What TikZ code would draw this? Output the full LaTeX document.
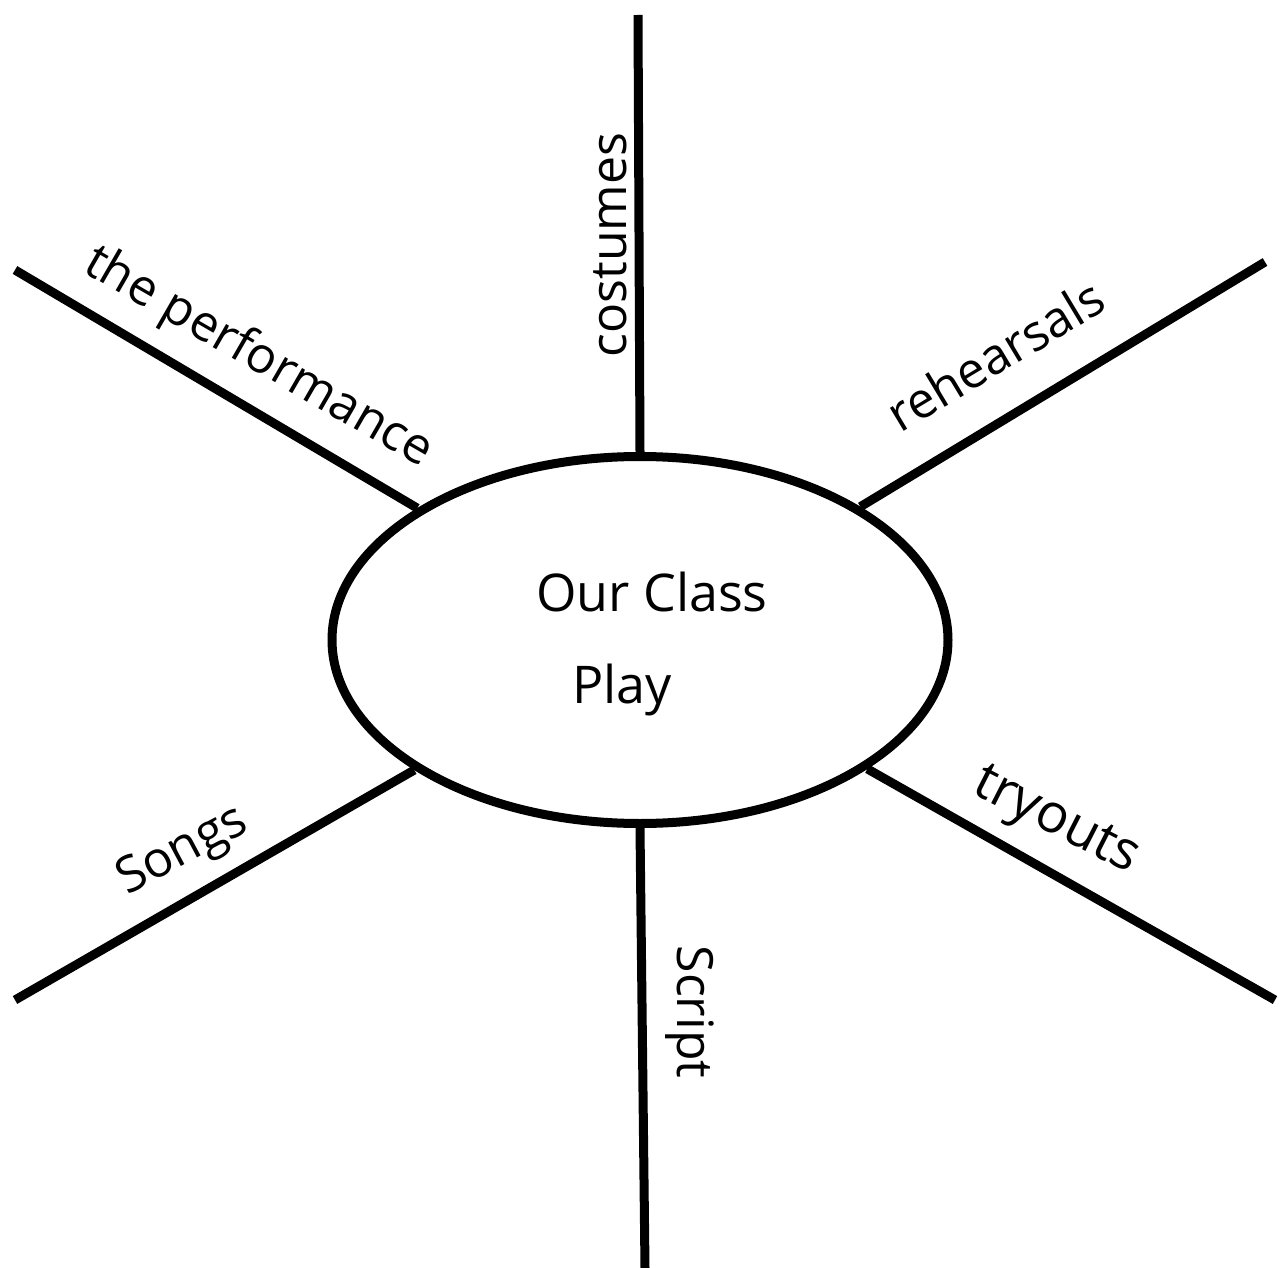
\documentclass[tikz,border=0pt]{standalone}
\usepackage{fontspec}
\setmainfont{Open Sans}
\usetikzlibrary{shapes.geometric}
\begin{document}
\begin{tikzpicture}[x=1pt,y=-1pt,
  spoke/.style={line width=9pt},
  lbl/.style={font=\fontsize{50}{56}\selectfont, inner sep=0pt},
  hubtext/.style={font=\fontsize{52}{58}\selectfont, inner sep=0pt}]
\fill[white] (0,0) rectangle (1286,1268);
\useasboundingbox (0,0) rectangle (1286,1268);
\node[ellipse, draw, line width=9pt, minimum width=616pt, minimum height=367pt, inner sep=0pt] (hub) at (640,640) {};
\node[hubtext] (t1) at (652,592) {Our Class};
\node[hubtext] (t2) at (622,690) {Play};
\coordinate (eN) at (638,15);
\coordinate (eS) at (645,1268);
\coordinate (eNW) at (15,270);
\coordinate (eNE) at (1265,262);
\coordinate (eSW) at (15,1000);
\coordinate (eSE) at (1275,1000);
\draw[spoke] (hub.north) -- (eN);
\draw[spoke] (hub.south) -- (eS);
\draw[spoke] (hub) -- (eNW);
\draw[spoke] (hub) -- (eNE);
\draw[spoke] (hub) -- (eSW);
\draw[spoke] (hub) -- (eSE);
\node[lbl, rotate=90] (lN) at (610,245) {costumes};
\node[lbl, rotate=-90] (lS) at (690,1012) {Script};
\node[lbl, rotate=-30] (lNW) at (258,358) {the performance};
\node[lbl, rotate=31] (lNE) at (995,355) {rehearsals};
\node[lbl, rotate=28] (lSW) at (183,852) {Songs};
\node[lbl, rotate=-27, scale=1.08] (lSE) at (1055,823) {tryouts};
\end{tikzpicture}
\end{document}
